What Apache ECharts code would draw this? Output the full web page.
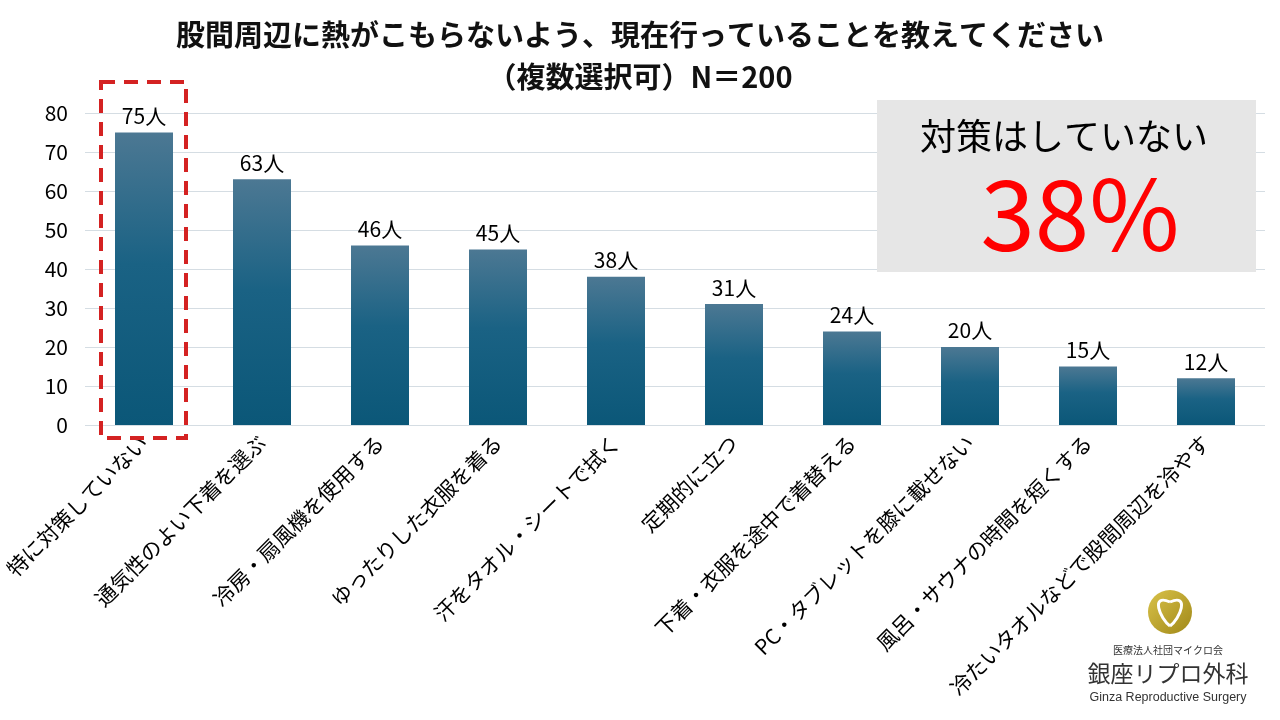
<!DOCTYPE html>
<html>
  <head>
    <meta charset="utf-8" />
    <title>ECharts</title>
    <script src="https://cdn.jsdelivr.net/npm/echarts/dist/echarts.min.js"></script>
    <style>
      html, body { margin: 0; padding: 0; background: #fff; }
    </style>
  </head>
  <body>
    <div id="main" style="width: 1280px; height: 720px;"></div>

    <script type="text/javascript">
      var myChart = echarts.init(document.getElementById('main'));

      const FONT = '"Noto Sans CJK JP", "Noto Sans", sans-serif';

      // データ
      const categories = [
        '特に対策していない',
        '通気性のよい下着を選ぶ',
        '冷房・扇風機を使用する',
        'ゆったりした衣服を着る',
        '汗をタオル・シートで拭く',
        '定期的に立つ',
        '下着・衣服を途中で着替える',
        'PC・タブレットを膝に載せない',
        '風呂・サウナの時間を短くする',
        '冷たいタオルなどで股間周辺を冷やす'
      ];
      const counts = [75, 63, 46, 45, 38, 31, 24, 20, 15, 12];
      const yTicks = [0, 10, 20, 30, 40, 50, 60, 70, 80];
      const highlightText = '対策はしていない';
      const highlightValue = '38%';

      const option = {
        backgroundColor: '#ffffff',
        textStyle: { fontFamily: FONT },
        title: {
          text: '股間周辺に熱がこもらないよう、現在行っていることを教えてください\n（複数選択可）N＝200',
          left: 'center',
          top: 9,
          textStyle: {
            fontFamily: FONT,
            fontSize: 29,
            fontWeight: 'bold',
            color: '#111',
            lineHeight: 42
          }
        },
        grid: { left: 85, right: 15, top: 113, bottom: 295, containLabel: false },
        xAxis: {
          type: 'category',
          data: categories,
          axisLine: { show: false },
          axisTick: { show: false },
          axisLabel: {
            interval: 0,
            rotate: 45,
            margin: 14,
            fontSize: 21,
            color: '#000',
            fontFamily: FONT
          }
        },
        yAxis: {
          type: 'value',
          min: yTicks[0],
          max: yTicks[yTicks.length - 1],
          interval: 10,
          axisLine: { show: false },
          axisTick: { show: false },
          axisLabel: { fontSize: 21, color: '#000', margin: 17, fontFamily: FONT },
          splitLine: { lineStyle: { color: '#d5dde3', width: 1 } }
        },
        series: [
          {
            type: 'bar',
            data: counts,
            barWidth: 58,
            itemStyle: {
              color: new echarts.graphic.LinearGradient(0, 0, 0, 1, [
                { offset: 0, color: '#4c7893' },
                { offset: 0.45, color: '#1a6284' },
                { offset: 1, color: '#0b5778' }
              ])
            },
            label: {
              show: true,
              position: 'top',
              distance: 6,
              formatter: '{c}人',
              fontSize: 21,
              color: '#000',
              fontFamily: FONT
            }
          }
        ]
      };

      myChart.setOption(option);

      // 強調枠(1本目の棒の位置から計算)
      const p0 = myChart.convertToPixel({ gridIndex: 0 }, [0, 0]);
      const pTop = myChart.convertToPixel({ gridIndex: 0 }, [0, yTicks[yTicks.length - 1]]);

      myChart.setOption({
        graphic: [
          {
            type: 'rect',
            shape: { x: p0[0] - 43, y: pTop[1] - 31, width: 85, height: p0[1] - pTop[1] + 44 },
            style: { fill: 'none', stroke: '#d42222', lineWidth: 4, lineDash: [14, 9] },
            z: 10
          },
          {
            type: 'rect',
            shape: { x: 877, y: 100, width: 379, height: 172 },
            style: { fill: '#e6e6e6' },
            z: 10
          },
          {
            type: 'text',
            x: 1064,
            y: 136,
            style: {
              text: highlightText,
              fontSize: 36,
              fontFamily: FONT,
              fill: '#000',
              align: 'center',
              verticalAlign: 'middle'
            },
            z: 11
          },
          {
            type: 'text',
            x: 1080,
            y: 214,
            style: {
              text: highlightValue,
              fontSize: 98,
              fontFamily: FONT,
              fill: '#ff0000',
              align: 'center',
              verticalAlign: 'middle'
            },
            z: 11
          },
          // ロゴ
          {
            type: 'circle',
            shape: { cx: 1170, cy: 612, r: 22 },
            style: {
              fill: new echarts.graphic.LinearGradient(0, 0, 1, 1, [
                { offset: 0, color: '#d9c24a' },
                { offset: 1, color: '#a08818' }
              ])
            },
            z: 11
          },
          {
            type: 'bezierCurve',
            shape: { x1: 1170, y1: 626, x2: 1170, y2: 602, cpx1: 1160, cpy1: 619, cpx2: 1150, cpy2: 593 },
            style: { fill: 'none', stroke: '#ffffff', lineWidth: 3 },
            z: 12
          },
          {
            type: 'bezierCurve',
            shape: { x1: 1170, y1: 626, x2: 1170, y2: 602, cpx1: 1180, cpy1: 619, cpx2: 1190, cpy2: 593 },
            style: { fill: 'none', stroke: '#ffffff', lineWidth: 3 },
            z: 12
          },
          {
            type: 'text',
            x: 1168,
            y: 650,
            style: { text: '医療法人社団マイクロ会', fontSize: 10, fontFamily: FONT, fill: '#333', align: 'center', verticalAlign: 'middle' },
            z: 11
          },
          {
            type: 'text',
            x: 1168,
            y: 673,
            style: { text: '銀座リプロ外科', fontSize: 23, fontFamily: FONT, fill: '#333', align: 'center', verticalAlign: 'middle' },
            z: 11
          },
          {
            type: 'text',
            x: 1168,
            y: 698,
            style: { text: 'Ginza Reproductive Surgery', fontSize: 12.5, fontFamily: '"Liberation Sans", Arial, sans-serif', fill: '#333', align: 'center', verticalAlign: 'middle' },
            z: 11
          }
        ]
      });
    </script>
  </body>
</html>
